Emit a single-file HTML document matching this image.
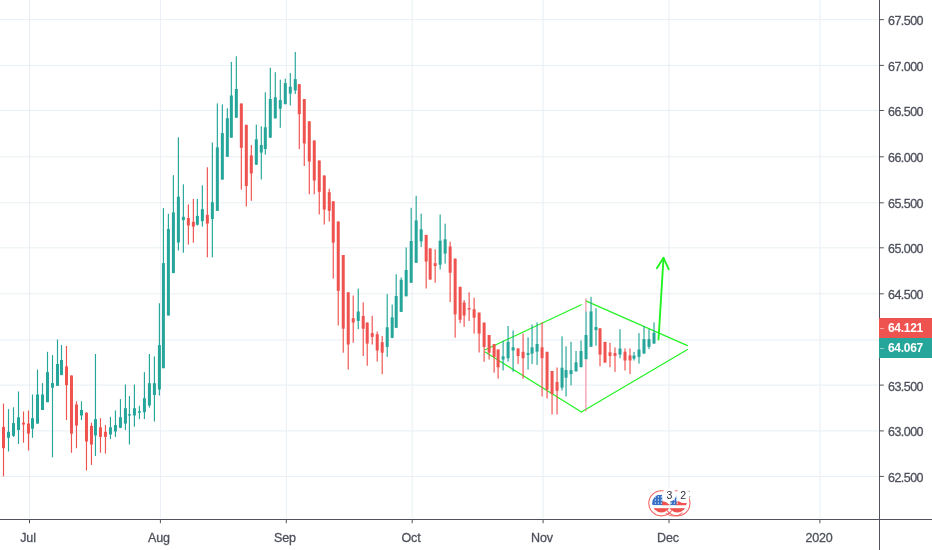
<!DOCTYPE html><html><head><meta charset="utf-8"><title>chart</title><style>
html,body{margin:0;padding:0;background:#fff;}body{width:932px;height:550px;overflow:hidden;position:relative;-webkit-font-smoothing:antialiased;font-family:"Liberation Sans",sans-serif;}
svg{position:absolute;left:0;top:0;display:block;will-change:transform}
.pl,.tl,.pb{will-change:transform;transform:translateZ(0)}.pl{position:absolute;left:888px;font-size:12.5px;line-height:14px;height:14px;color:#4e515c;letter-spacing:-0.55px;white-space:nowrap;-webkit-text-stroke:0.3px #4e515c}
.tl{position:absolute;top:530.6px;width:60px;text-align:center;font-size:12.5px;line-height:14px;height:14px;color:#4e515c;letter-spacing:-0.15px;white-space:nowrap;-webkit-text-stroke:0.3px #4e515c}
.pb{position:absolute;left:879px;width:53px;height:20px;color:#fff;font-weight:bold;font-size:12px;line-height:20px;letter-spacing:-0.3px}
.pb span{position:absolute;left:9px;top:0}
</style></head><body>
<svg width="932" height="550" viewBox="0 0 932 550">
<g fill="#e8eff4">
<rect x="0" y="19.15" width="879" height="1"/>
<rect x="0" y="64.90" width="879" height="1"/>
<rect x="0" y="110.00" width="879" height="1"/>
<rect x="0" y="156.30" width="879" height="1"/>
<rect x="0" y="202.30" width="879" height="1"/>
<rect x="0" y="247.30" width="879" height="1"/>
<rect x="0" y="293.30" width="879" height="1"/>
<rect x="0" y="339.50" width="879" height="1"/>
<rect x="0" y="384.60" width="879" height="1"/>
<rect x="0" y="430.40" width="879" height="1"/>
<rect x="0" y="475.90" width="879" height="1"/>
<rect x="29.0" y="0" width="1" height="518"/>
<rect x="159.9" y="0" width="1" height="518"/>
<rect x="285.8" y="0" width="1" height="518"/>
<rect x="411.7" y="0" width="1" height="518"/>
<rect x="542.6" y="0" width="1" height="518"/>
<rect x="668.5" y="0" width="1" height="518"/>
<rect x="819.4" y="0" width="1" height="518"/>
</g>
<g stroke="#22f222" stroke-width="1.15" fill="none" stroke-linecap="round">
<line x1="485.2" y1="349.7" x2="581.3" y2="304.8"/>
<line x1="485.2" y1="352.1" x2="581.4" y2="412"/>
<line x1="586.4" y1="301.1" x2="687.5" y2="345.6"/>
<line x1="581.4" y1="412" x2="687.5" y2="349.6"/>
</g>
<rect x="585.35" y="298.3" width="1.1" height="13.1" fill="#f2607d" opacity="0.75"/><rect x="585.35" y="359.2" width="1.1" height="52.2" fill="#f2607d" opacity="0.75"/>
<rect x="2.92" y="403.6" width="1.16" height="72.8" fill="#ef5350"/>
<rect x="2.00" y="426.9" width="3" height="21.3" fill="#ef5350"/>
<rect x="7.92" y="409.1" width="1.16" height="42.4" fill="#26a69a"/>
<rect x="7.00" y="431.8" width="3" height="6.0" fill="#26a69a"/>
<rect x="12.92" y="407.3" width="1.16" height="29.6" fill="#26a69a"/>
<rect x="12.00" y="423.1" width="3" height="12.7" fill="#26a69a"/>
<rect x="17.92" y="391.5" width="1.16" height="52.5" fill="#26a69a"/>
<rect x="17.00" y="417.3" width="3" height="12.7" fill="#26a69a"/>
<rect x="22.92" y="411.5" width="1.16" height="31.2" fill="#ef5350"/>
<rect x="22.00" y="422.7" width="3" height="1.8" fill="#ef5350"/>
<rect x="27.92" y="410.5" width="1.16" height="40.0" fill="#ef5350"/>
<rect x="27.00" y="423.6" width="3" height="10.0" fill="#ef5350"/>
<rect x="31.92" y="394.5" width="1.16" height="43.3" fill="#26a69a"/>
<rect x="31.00" y="418.2" width="3" height="10.5" fill="#26a69a"/>
<rect x="36.92" y="369.6" width="1.16" height="54.0" fill="#26a69a"/>
<rect x="36.00" y="394.5" width="3" height="29.1" fill="#26a69a"/>
<rect x="41.92" y="383.1" width="1.16" height="26.9" fill="#26a69a"/>
<rect x="41.00" y="394.5" width="3" height="15.5" fill="#26a69a"/>
<rect x="46.92" y="351.8" width="1.16" height="50.4" fill="#26a69a"/>
<rect x="46.00" y="372.2" width="3" height="30.0" fill="#26a69a"/>
<rect x="51.92" y="355.1" width="1.16" height="102.2" fill="#26a69a"/>
<rect x="51.00" y="383.1" width="3" height="4.6" fill="#26a69a"/>
<rect x="56.91" y="339.5" width="1.16" height="46.3" fill="#26a69a"/>
<rect x="55.99" y="364.0" width="3" height="21.8" fill="#26a69a"/>
<rect x="60.91" y="344.9" width="1.16" height="30.2" fill="#26a69a"/>
<rect x="59.99" y="360.0" width="3" height="15.1" fill="#26a69a"/>
<rect x="65.91" y="346.0" width="1.16" height="74.0" fill="#ef5350"/>
<rect x="64.99" y="366.4" width="3" height="18.7" fill="#ef5350"/>
<rect x="70.90" y="375.5" width="1.16" height="77.2" fill="#ef5350"/>
<rect x="69.98" y="375.5" width="3" height="58.1" fill="#ef5350"/>
<rect x="75.90" y="401.3" width="1.16" height="46.9" fill="#ef5350"/>
<rect x="74.98" y="404.5" width="3" height="21.0" fill="#ef5350"/>
<rect x="80.89" y="401.3" width="1.16" height="18.7" fill="#26a69a"/>
<rect x="79.97" y="410.0" width="3" height="5.5" fill="#26a69a"/>
<rect x="85.89" y="412.4" width="1.16" height="58.1" fill="#ef5350"/>
<rect x="84.97" y="412.7" width="3" height="28.8" fill="#ef5350"/>
<rect x="90.88" y="422.7" width="1.16" height="42.2" fill="#ef5350"/>
<rect x="89.96" y="425.9" width="3" height="18.6" fill="#ef5350"/>
<rect x="94.88" y="354.0" width="1.16" height="102.0" fill="#26a69a"/>
<rect x="93.96" y="419.1" width="3" height="16.4" fill="#26a69a"/>
<rect x="99.88" y="418.2" width="1.16" height="34.5" fill="#ef5350"/>
<rect x="98.96" y="427.3" width="3" height="9.6" fill="#ef5350"/>
<rect x="104.87" y="425.0" width="1.16" height="28.6" fill="#ef5350"/>
<rect x="103.95" y="431.8" width="3" height="5.1" fill="#ef5350"/>
<rect x="109.87" y="416.9" width="1.16" height="22.2" fill="#26a69a"/>
<rect x="108.95" y="427.3" width="3" height="7.2" fill="#26a69a"/>
<rect x="114.86" y="410.4" width="1.16" height="26.5" fill="#26a69a"/>
<rect x="113.94" y="425.1" width="3" height="6.4" fill="#26a69a"/>
<rect x="119.86" y="399.1" width="1.16" height="29.1" fill="#26a69a"/>
<rect x="118.94" y="417.3" width="3" height="10.5" fill="#26a69a"/>
<rect x="124.85" y="384.5" width="1.16" height="45.5" fill="#26a69a"/>
<rect x="123.93" y="408.2" width="3" height="15.4" fill="#26a69a"/>
<rect x="128.85" y="396.0" width="1.16" height="48.5" fill="#26a69a"/>
<rect x="127.93" y="414.2" width="3" height="1.4" fill="#26a69a"/>
<rect x="133.84" y="384.5" width="1.16" height="42.2" fill="#26a69a"/>
<rect x="132.93" y="408.2" width="3" height="7.3" fill="#26a69a"/>
<rect x="138.84" y="405.8" width="1.16" height="13.3" fill="#26a69a"/>
<rect x="137.92" y="411.3" width="3" height="1.4" fill="#26a69a"/>
<rect x="143.84" y="372.2" width="1.16" height="46.9" fill="#26a69a"/>
<rect x="142.92" y="398.2" width="3" height="14.0" fill="#26a69a"/>
<rect x="148.83" y="354.0" width="1.16" height="53.6" fill="#26a69a"/>
<rect x="147.91" y="383.2" width="3" height="22.3" fill="#26a69a"/>
<rect x="153.83" y="356.4" width="1.16" height="65.1" fill="#26a69a"/>
<rect x="152.91" y="383.2" width="3" height="11.8" fill="#26a69a"/>
<rect x="158.82" y="303.3" width="1.16" height="92.2" fill="#26a69a"/>
<rect x="157.90" y="345.1" width="3" height="44.4" fill="#26a69a"/>
<rect x="162.82" y="208.1" width="1.16" height="160.1" fill="#26a69a"/>
<rect x="161.90" y="263.1" width="3" height="105.1" fill="#26a69a"/>
<rect x="167.81" y="213.8" width="1.16" height="101.7" fill="#26a69a"/>
<rect x="166.89" y="229.0" width="3" height="86.5" fill="#26a69a"/>
<rect x="172.81" y="175.2" width="1.16" height="97.9" fill="#26a69a"/>
<rect x="171.89" y="212.4" width="3" height="60.7" fill="#26a69a"/>
<rect x="177.81" y="137.3" width="1.16" height="113.2" fill="#26a69a"/>
<rect x="176.89" y="196.7" width="3" height="45.8" fill="#26a69a"/>
<rect x="182.80" y="184.3" width="1.16" height="68.5" fill="#26a69a"/>
<rect x="181.88" y="216.8" width="3" height="3.3" fill="#26a69a"/>
<rect x="187.80" y="204.4" width="1.16" height="40.2" fill="#ef5350"/>
<rect x="186.88" y="218.1" width="3" height="7.4" fill="#ef5350"/>
<rect x="192.79" y="198.9" width="1.16" height="43.8" fill="#ef5350"/>
<rect x="191.87" y="221.8" width="3" height="4.8" fill="#ef5350"/>
<rect x="196.79" y="198.9" width="1.16" height="26.6" fill="#26a69a"/>
<rect x="195.87" y="215.9" width="3" height="8.8" fill="#26a69a"/>
<rect x="201.78" y="185.3" width="1.16" height="41.3" fill="#26a69a"/>
<rect x="200.86" y="209.2" width="3" height="12.0" fill="#26a69a"/>
<rect x="206.78" y="167.3" width="1.16" height="90.0" fill="#ef5350"/>
<rect x="205.86" y="214.8" width="3" height="8.8" fill="#ef5350"/>
<rect x="211.78" y="142.6" width="1.16" height="114.7" fill="#26a69a"/>
<rect x="210.86" y="202.2" width="3" height="16.8" fill="#26a69a"/>
<rect x="216.77" y="103.4" width="1.16" height="107.5" fill="#26a69a"/>
<rect x="215.85" y="147.3" width="3" height="63.6" fill="#26a69a"/>
<rect x="221.77" y="104.4" width="1.16" height="75.2" fill="#26a69a"/>
<rect x="220.85" y="133.1" width="3" height="46.5" fill="#26a69a"/>
<rect x="226.76" y="108.3" width="1.16" height="48.5" fill="#26a69a"/>
<rect x="225.84" y="118.2" width="3" height="38.6" fill="#26a69a"/>
<rect x="230.76" y="61.9" width="1.16" height="75.8" fill="#26a69a"/>
<rect x="229.84" y="95.5" width="3" height="42.2" fill="#26a69a"/>
<rect x="235.75" y="56.3" width="1.16" height="61.4" fill="#26a69a"/>
<rect x="234.83" y="89.0" width="3" height="28.7" fill="#26a69a"/>
<rect x="240.75" y="103.5" width="1.16" height="86.1" fill="#ef5350"/>
<rect x="239.83" y="103.5" width="3" height="44.3" fill="#ef5350"/>
<rect x="245.74" y="124.8" width="1.16" height="81.7" fill="#ef5350"/>
<rect x="244.82" y="124.8" width="3" height="61.2" fill="#ef5350"/>
<rect x="250.74" y="145.0" width="1.16" height="55.8" fill="#ef5350"/>
<rect x="249.82" y="155.4" width="3" height="18.1" fill="#ef5350"/>
<rect x="255.74" y="124.6" width="1.16" height="40.4" fill="#26a69a"/>
<rect x="254.82" y="139.3" width="3" height="25.3" fill="#26a69a"/>
<rect x="260.73" y="126.3" width="1.16" height="53.2" fill="#26a69a"/>
<rect x="259.81" y="145.0" width="3" height="7.6" fill="#26a69a"/>
<rect x="264.73" y="92.3" width="1.16" height="62.3" fill="#26a69a"/>
<rect x="263.81" y="127.3" width="3" height="21.7" fill="#26a69a"/>
<rect x="269.72" y="67.7" width="1.16" height="70.0" fill="#26a69a"/>
<rect x="268.80" y="99.0" width="3" height="38.7" fill="#26a69a"/>
<rect x="274.72" y="72.2" width="1.16" height="46.2" fill="#26a69a"/>
<rect x="273.80" y="97.3" width="3" height="21.1" fill="#26a69a"/>
<rect x="279.71" y="79.7" width="1.16" height="48.1" fill="#26a69a"/>
<rect x="278.79" y="100.0" width="3" height="8.7" fill="#26a69a"/>
<rect x="284.71" y="78.7" width="1.16" height="25.5" fill="#26a69a"/>
<rect x="283.79" y="83.1" width="3" height="21.1" fill="#26a69a"/>
<rect x="289.71" y="73.1" width="1.16" height="32.4" fill="#26a69a"/>
<rect x="288.79" y="86.7" width="3" height="6.9" fill="#26a69a"/>
<rect x="294.70" y="52.0" width="1.16" height="42.0" fill="#26a69a"/>
<rect x="293.78" y="79.1" width="3" height="11.4" fill="#26a69a"/>
<rect x="298.70" y="84.2" width="1.16" height="65.0" fill="#ef5350"/>
<rect x="297.78" y="84.2" width="3" height="30.0" fill="#ef5350"/>
<rect x="303.69" y="99.1" width="1.16" height="66.9" fill="#ef5350"/>
<rect x="302.77" y="99.1" width="3" height="44.4" fill="#ef5350"/>
<rect x="308.69" y="121.3" width="1.16" height="73.0" fill="#ef5350"/>
<rect x="307.77" y="121.3" width="3" height="40.2" fill="#ef5350"/>
<rect x="313.68" y="140.5" width="1.16" height="53.8" fill="#ef5350"/>
<rect x="312.76" y="140.5" width="3" height="40.0" fill="#ef5350"/>
<rect x="318.68" y="160.5" width="1.16" height="54.0" fill="#ef5350"/>
<rect x="317.76" y="160.5" width="3" height="31.3" fill="#ef5350"/>
<rect x="323.68" y="175.5" width="1.16" height="49.0" fill="#ef5350"/>
<rect x="322.76" y="175.5" width="3" height="34.1" fill="#ef5350"/>
<rect x="328.67" y="188.7" width="1.16" height="32.8" fill="#ef5350"/>
<rect x="327.75" y="192.2" width="3" height="18.7" fill="#ef5350"/>
<rect x="332.67" y="201.3" width="1.16" height="77.3" fill="#ef5350"/>
<rect x="331.75" y="201.3" width="3" height="41.3" fill="#ef5350"/>
<rect x="337.66" y="221.5" width="1.16" height="104.0" fill="#ef5350"/>
<rect x="336.74" y="221.5" width="3" height="69.3" fill="#ef5350"/>
<rect x="342.66" y="255.0" width="1.16" height="97.7" fill="#ef5350"/>
<rect x="341.74" y="255.0" width="3" height="73.7" fill="#ef5350"/>
<rect x="347.65" y="292.3" width="1.16" height="77.2" fill="#ef5350"/>
<rect x="346.73" y="292.3" width="3" height="52.2" fill="#ef5350"/>
<rect x="352.65" y="295.5" width="1.16" height="47.2" fill="#ef5350"/>
<rect x="351.73" y="318.2" width="3" height="4.3" fill="#ef5350"/>
<rect x="357.65" y="288.6" width="1.16" height="40.5" fill="#26a69a"/>
<rect x="356.73" y="311.5" width="3" height="9.4" fill="#26a69a"/>
<rect x="362.64" y="302.4" width="1.16" height="53.6" fill="#ef5350"/>
<rect x="361.72" y="316.0" width="3" height="12.7" fill="#ef5350"/>
<rect x="366.64" y="322.5" width="1.16" height="43.3" fill="#ef5350"/>
<rect x="365.72" y="322.5" width="3" height="21.1" fill="#ef5350"/>
<rect x="371.63" y="315.7" width="1.16" height="28.8" fill="#ef5350"/>
<rect x="370.71" y="333.1" width="3" height="3.8" fill="#ef5350"/>
<rect x="376.63" y="331.5" width="1.16" height="30.0" fill="#ef5350"/>
<rect x="375.71" y="334.2" width="3" height="16.3" fill="#ef5350"/>
<rect x="381.62" y="336.0" width="1.16" height="38.2" fill="#ef5350"/>
<rect x="380.70" y="342.2" width="3" height="10.5" fill="#ef5350"/>
<rect x="386.62" y="294.2" width="1.16" height="62.7" fill="#26a69a"/>
<rect x="385.70" y="327.3" width="3" height="19.6" fill="#26a69a"/>
<rect x="391.61" y="304.5" width="1.16" height="33.7" fill="#26a69a"/>
<rect x="390.69" y="317.3" width="3" height="20.5" fill="#26a69a"/>
<rect x="395.61" y="274.2" width="1.16" height="53.6" fill="#26a69a"/>
<rect x="394.69" y="296.0" width="3" height="31.8" fill="#26a69a"/>
<rect x="400.61" y="277.4" width="1.16" height="34.5" fill="#26a69a"/>
<rect x="399.69" y="279.8" width="3" height="32.1" fill="#26a69a"/>
<rect x="405.60" y="247.5" width="1.16" height="48.8" fill="#26a69a"/>
<rect x="404.68" y="270.0" width="3" height="26.3" fill="#26a69a"/>
<rect x="410.60" y="207.8" width="1.16" height="75.0" fill="#26a69a"/>
<rect x="409.68" y="241.0" width="3" height="41.8" fill="#26a69a"/>
<rect x="415.59" y="195.8" width="1.16" height="67.0" fill="#26a69a"/>
<rect x="414.67" y="220.4" width="3" height="42.4" fill="#26a69a"/>
<rect x="420.59" y="213.6" width="1.16" height="33.3" fill="#26a69a"/>
<rect x="419.67" y="229.3" width="3" height="12.1" fill="#26a69a"/>
<rect x="425.58" y="234.9" width="1.16" height="53.6" fill="#ef5350"/>
<rect x="424.66" y="234.9" width="3" height="26.6" fill="#ef5350"/>
<rect x="429.58" y="248.4" width="1.16" height="31.2" fill="#ef5350"/>
<rect x="428.66" y="248.4" width="3" height="31.2" fill="#ef5350"/>
<rect x="434.58" y="249.3" width="1.16" height="33.5" fill="#ef5350"/>
<rect x="433.66" y="263.2" width="3" height="2.8" fill="#ef5350"/>
<rect x="439.57" y="214.5" width="1.16" height="55.0" fill="#26a69a"/>
<rect x="438.65" y="240.7" width="3" height="24.0" fill="#26a69a"/>
<rect x="444.57" y="223.6" width="1.16" height="40.0" fill="#26a69a"/>
<rect x="443.65" y="239.3" width="3" height="14.3" fill="#26a69a"/>
<rect x="449.56" y="241.7" width="1.16" height="60.4" fill="#ef5350"/>
<rect x="448.64" y="246.5" width="3" height="26.2" fill="#ef5350"/>
<rect x="454.56" y="258.6" width="1.16" height="79.1" fill="#ef5350"/>
<rect x="453.64" y="258.6" width="3" height="55.7" fill="#ef5350"/>
<rect x="459.55" y="286.8" width="1.16" height="36.4" fill="#ef5350"/>
<rect x="458.63" y="286.8" width="3" height="32.9" fill="#ef5350"/>
<rect x="463.55" y="300.1" width="1.16" height="26.7" fill="#ef5350"/>
<rect x="462.63" y="302.5" width="3" height="13.0" fill="#ef5350"/>
<rect x="468.55" y="292.3" width="1.16" height="28.7" fill="#ef5350"/>
<rect x="467.63" y="308.1" width="3" height="1.4" fill="#ef5350"/>
<rect x="473.54" y="297.7" width="1.16" height="35.9" fill="#ef5350"/>
<rect x="472.62" y="309.2" width="3" height="8.5" fill="#ef5350"/>
<rect x="478.54" y="312.6" width="1.16" height="39.9" fill="#ef5350"/>
<rect x="477.62" y="312.6" width="3" height="21.0" fill="#ef5350"/>
<rect x="483.53" y="322.6" width="1.16" height="39.2" fill="#ef5350"/>
<rect x="482.61" y="322.6" width="3" height="24.4" fill="#ef5350"/>
<rect x="488.53" y="335.0" width="1.16" height="24.5" fill="#ef5350"/>
<rect x="487.61" y="335.0" width="3" height="17.7" fill="#ef5350"/>
<rect x="493.52" y="344.1" width="1.16" height="28.6" fill="#ef5350"/>
<rect x="492.60" y="344.1" width="3" height="12.8" fill="#ef5350"/>
<rect x="497.52" y="349.5" width="1.16" height="29.2" fill="#ef5350"/>
<rect x="496.60" y="349.5" width="3" height="17.8" fill="#ef5350"/>
<rect x="502.52" y="340.7" width="1.16" height="29.8" fill="#26a69a"/>
<rect x="501.60" y="356.4" width="3" height="3.1" fill="#26a69a"/>
<rect x="507.51" y="326.0" width="1.16" height="35.5" fill="#26a69a"/>
<rect x="506.59" y="341.8" width="3" height="16.4" fill="#26a69a"/>
<rect x="512.51" y="330.5" width="1.16" height="41.3" fill="#26a69a"/>
<rect x="511.59" y="347.3" width="3" height="3.2" fill="#26a69a"/>
<rect x="517.50" y="348.2" width="1.16" height="15.8" fill="#ef5350"/>
<rect x="516.58" y="348.5" width="3" height="7.5" fill="#ef5350"/>
<rect x="522.50" y="333.6" width="1.16" height="45.1" fill="#ef5350"/>
<rect x="521.58" y="351.8" width="3" height="6.4" fill="#ef5350"/>
<rect x="527.49" y="337.3" width="1.16" height="32.3" fill="#26a69a"/>
<rect x="526.57" y="353.1" width="3" height="1.8" fill="#26a69a"/>
<rect x="531.49" y="324.5" width="1.16" height="39.5" fill="#26a69a"/>
<rect x="530.57" y="347.3" width="3" height="6.3" fill="#26a69a"/>
<rect x="536.49" y="322.4" width="1.16" height="42.6" fill="#26a69a"/>
<rect x="535.57" y="344.0" width="3" height="7.6" fill="#26a69a"/>
<rect x="541.48" y="322.4" width="1.16" height="74.0" fill="#ef5350"/>
<rect x="540.56" y="347.3" width="3" height="10.9" fill="#ef5350"/>
<rect x="546.48" y="351.8" width="1.16" height="46.7" fill="#ef5350"/>
<rect x="545.56" y="351.8" width="3" height="37.9" fill="#ef5350"/>
<rect x="551.47" y="371.0" width="1.16" height="43.5" fill="#ef5350"/>
<rect x="550.55" y="371.0" width="3" height="23.1" fill="#ef5350"/>
<rect x="556.47" y="367.5" width="1.16" height="47.0" fill="#ef5350"/>
<rect x="555.55" y="382.0" width="3" height="8.8" fill="#ef5350"/>
<rect x="561.46" y="336.3" width="1.16" height="54.2" fill="#26a69a"/>
<rect x="560.54" y="367.7" width="3" height="20.0" fill="#26a69a"/>
<rect x="565.46" y="346.3" width="1.16" height="50.2" fill="#26a69a"/>
<rect x="564.54" y="370.1" width="3" height="7.6" fill="#26a69a"/>
<rect x="570.45" y="341.9" width="1.16" height="43.5" fill="#26a69a"/>
<rect x="569.53" y="370.1" width="3" height="4.0" fill="#26a69a"/>
<rect x="575.45" y="350.9" width="1.16" height="20.5" fill="#26a69a"/>
<rect x="574.53" y="362.3" width="3" height="9.1" fill="#26a69a"/>
<rect x="580.45" y="340.5" width="1.16" height="26.7" fill="#26a69a"/>
<rect x="579.53" y="351.0" width="3" height="16.2" fill="#26a69a"/>
<rect x="585.44" y="311.4" width="1.16" height="47.8" fill="#26a69a"/>
<rect x="584.52" y="335.0" width="3" height="24.2" fill="#26a69a"/>
<rect x="590.44" y="296.8" width="1.16" height="50.0" fill="#26a69a"/>
<rect x="589.52" y="311.4" width="3" height="35.4" fill="#26a69a"/>
<rect x="595.43" y="308.3" width="1.16" height="37.4" fill="#26a69a"/>
<rect x="594.51" y="327.0" width="3" height="3.1" fill="#26a69a"/>
<rect x="599.43" y="328.3" width="1.16" height="38.0" fill="#ef5350"/>
<rect x="598.51" y="328.3" width="3" height="26.3" fill="#ef5350"/>
<rect x="604.42" y="341.9" width="1.16" height="20.7" fill="#ef5350"/>
<rect x="603.50" y="341.9" width="3" height="20.7" fill="#ef5350"/>
<rect x="609.42" y="342.8" width="1.16" height="24.4" fill="#ef5350"/>
<rect x="608.50" y="352.3" width="3" height="3.6" fill="#ef5350"/>
<rect x="614.42" y="347.4" width="1.16" height="24.5" fill="#ef5350"/>
<rect x="613.50" y="353.0" width="3" height="2.9" fill="#ef5350"/>
<rect x="619.42" y="329.2" width="1.16" height="29.1" fill="#26a69a"/>
<rect x="618.50" y="348.6" width="3" height="6.0" fill="#26a69a"/>
<rect x="624.42" y="348.4" width="1.16" height="22.1" fill="#ef5350"/>
<rect x="623.50" y="351.7" width="3" height="8.8" fill="#ef5350"/>
<rect x="629.42" y="348.4" width="1.16" height="25.7" fill="#ef5350"/>
<rect x="628.50" y="355.4" width="3" height="5.1" fill="#ef5350"/>
<rect x="633.42" y="351.9" width="1.16" height="8.6" fill="#26a69a"/>
<rect x="632.50" y="355.5" width="3" height="3.1" fill="#26a69a"/>
<rect x="638.42" y="333.1" width="1.16" height="30.5" fill="#26a69a"/>
<rect x="637.50" y="349.5" width="3" height="7.4" fill="#26a69a"/>
<rect x="643.42" y="326.0" width="1.16" height="27.6" fill="#26a69a"/>
<rect x="642.50" y="339.1" width="3" height="14.5" fill="#26a69a"/>
<rect x="648.42" y="329.1" width="1.16" height="20.0" fill="#26a69a"/>
<rect x="647.50" y="339.1" width="3" height="7.8" fill="#26a69a"/>
<rect x="653.42" y="322.4" width="1.16" height="21.2" fill="#26a69a"/>
<rect x="652.50" y="332.7" width="3" height="10.9" fill="#26a69a"/>
<g stroke="#22f222" stroke-width="1.9" fill="none" stroke-linecap="round" stroke-linejoin="round">
<line x1="658.5" y1="339.5" x2="663.5" y2="258"/>
<polyline points="656.9,268.3 663.5,257.8 668.7,269.2"/>
</g>
<g shape-rendering="crispEdges" fill="#50535e">
<rect x="879" y="0" width="1" height="550"/>
<rect x="0" y="519" width="932" height="1"/>
</g>
<g fill="#50535e">
<rect x="880" y="19.15" width="3.8" height="1"/>
<rect x="880" y="64.90" width="3.8" height="1"/>
<rect x="880" y="110.00" width="3.8" height="1"/>
<rect x="880" y="156.30" width="3.8" height="1"/>
<rect x="880" y="202.30" width="3.8" height="1"/>
<rect x="880" y="247.30" width="3.8" height="1"/>
<rect x="880" y="293.30" width="3.8" height="1"/>
<rect x="880" y="384.60" width="3.8" height="1"/>
<rect x="880" y="430.40" width="3.8" height="1"/>
<rect x="880" y="475.90" width="3.8" height="1"/>
<rect x="29.0" y="520" width="1" height="3.2"/>
<rect x="159.9" y="520" width="1" height="3.2"/>
<rect x="285.8" y="520" width="1" height="3.2"/>
<rect x="411.7" y="520" width="1" height="3.2"/>
<rect x="542.6" y="520" width="1" height="3.2"/>
<rect x="668.5" y="520" width="1" height="3.2"/>
<rect x="819.4" y="520" width="1" height="3.2"/>
</g>
<g>
<g fill="none" stroke="#ef5350" stroke-width="1.05" opacity="0.9">
<circle cx="661.4" cy="503.3" r="12.6"/>
<circle cx="677.4" cy="503.3" r="12.6"/>
<path d="M665.8 513.2 A12.6 12.6 0 0 0 682.5 512.6" opacity="0.85"/>
</g>
<clipPath id="cb"><circle cx="677.4" cy="503.3" r="9.2"/></clipPath>
<g clip-path="url(#cb)">
<rect x="667.2" y="493.1" width="20" height="20" fill="#fff"/>
<path d="M676 505.2 V501.7 L678.5 501.3 L682.3 502.9 L687 503.1 V505.2 z" fill="#ef5350"/>
<rect x="667.2" y="508.2" width="20" height="5" fill="#ef5350"/>
<rect x="667.8" y="494.9" width="8.6" height="10.2" fill="#3b6fc6"/>
<rect x="670.8" y="496.3" width="1.2" height="1.2" fill="#dff" opacity="0.9"/>
<rect x="670.8" y="499.4" width="1.2" height="1.2" fill="#dff" opacity="0.9"/>
<rect x="670.8" y="502.5" width="1.2" height="1.2" fill="#dff" opacity="0.9"/>
<rect x="673.8" y="496.3" width="1.2" height="1.2" fill="#dff" opacity="0.9"/>
<rect x="673.8" y="499.4" width="1.2" height="1.2" fill="#dff" opacity="0.9"/>
<rect x="673.8" y="502.5" width="1.2" height="1.2" fill="#dff" opacity="0.9"/>
<rect x="676.8" y="496.3" width="1.2" height="1.2" fill="#dff" opacity="0.9"/>
<rect x="676.8" y="499.4" width="1.2" height="1.2" fill="#dff" opacity="0.9"/>
<rect x="676.8" y="502.5" width="1.2" height="1.2" fill="#dff" opacity="0.9"/>
</g>
<clipPath id="ca"><circle cx="661.4" cy="503.3" r="9.2"/></clipPath>
<g clip-path="url(#ca)">
<rect x="651.2" y="493.1" width="20" height="20" fill="#fff"/>
<path d="M661.8 505.2 V500.9 L665.8 501.9 L669.2 504.5 L671 505.2 z" fill="#ef5350"/>
<rect x="651.2" y="508.2" width="20" height="5" fill="#ef5350"/>
<rect x="651.8" y="494.9" width="10.4" height="10.2" fill="#3b6fc6"/>
<rect x="654.8" y="496.3" width="1.2" height="1.2" fill="#dff" opacity="0.9"/>
<rect x="654.8" y="499.4" width="1.2" height="1.2" fill="#dff" opacity="0.9"/>
<rect x="654.8" y="502.5" width="1.2" height="1.2" fill="#dff" opacity="0.9"/>
<rect x="657.8" y="496.3" width="1.2" height="1.2" fill="#dff" opacity="0.9"/>
<rect x="657.8" y="499.4" width="1.2" height="1.2" fill="#dff" opacity="0.9"/>
<rect x="657.8" y="502.5" width="1.2" height="1.2" fill="#dff" opacity="0.9"/>
<rect x="660.8" y="496.3" width="1.2" height="1.2" fill="#dff" opacity="0.9"/>
<rect x="660.8" y="499.4" width="1.2" height="1.2" fill="#dff" opacity="0.9"/>
<rect x="660.8" y="502.5" width="1.2" height="1.2" fill="#dff" opacity="0.9"/>
</g>
<circle cx="669.3" cy="494.6" r="7" fill="#fff"/>
<circle cx="683.2" cy="494.6" r="7" fill="#fff"/>
<g font-family="Liberation Sans, sans-serif" font-size="10.5" fill="#2a2e39" text-anchor="middle">
<text x="669.3" y="498.9">3</text><text x="683.2" y="498.9">2</text>
</g>
<path d="M688.7 490.8 l1 1.2 M689.6 496 l0.2 1.6" stroke="#555" stroke-width="0.9" opacity="0.7"/>
</g>
</svg>
<div class="pl" style="top:13.5px">67.500</div>
<div class="pl" style="top:59.5px">67.000</div>
<div class="pl" style="top:104.5px">66.500</div>
<div class="pl" style="top:150.5px">66.000</div>
<div class="pl" style="top:196.5px">65.500</div>
<div class="pl" style="top:241.5px">65.000</div>
<div class="pl" style="top:287.5px">64.500</div>
<div class="pl" style="top:379.5px">63.500</div>
<div class="pl" style="top:424.5px">63.000</div>
<div class="pl" style="top:470.5px">62.500</div>
<div class="tl" style="left:-1.6px">Jul</div>
<div class="tl" style="left:129.4px">Aug</div>
<div class="tl" style="left:255.4px">Sep</div>
<div class="tl" style="left:381.4px">Oct</div>
<div class="tl" style="left:512.4px">Nov</div>
<div class="tl" style="left:638.4px">Dec</div>
<div class="tl" style="left:789.4px">2020</div>
<div class="pb" style="top:318px;background:#ef5350"><span>64.121</span><i style="position:absolute;left:1px;top:10px;width:4px;height:1px;background:#f7a9a7"></i></div>
<div class="pb" style="top:338px;background:#26a69a"><span>64.067</span><i style="position:absolute;left:1px;top:10px;width:4px;height:1px;background:#92d2cc"></i></div>
</body></html>
